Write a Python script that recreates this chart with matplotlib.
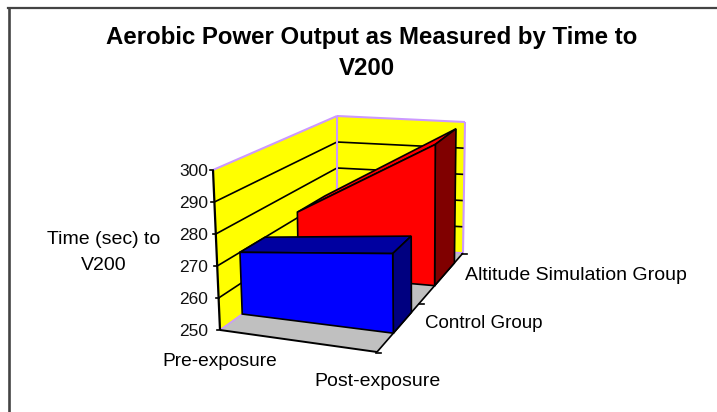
import matplotlib
matplotlib.use("Agg")
import matplotlib.pyplot as plt
from matplotlib.patches import Polygon

plt.rcParams['font.family'] = ['Liberation Sans', 'DejaVu Sans']

# chart data
categories = ['Pre-exposure', 'Post-exposure']
groups = ['Control Group', 'Altitude Simulation Group']
control = [270, 275.5]
altitude = [272, 300]
yticks = [250, 260, 270, 280, 290, 300]
title = 'Aerobic Power Output as Measured by Time to\nV200'
ylabel = 'Time (sec) to\nV200'

# pixel position of the 8 box corners, (x, depth, value)
corners = {
    (0, 0, 0): (220, 330), (0, 0, 1): (213, 170),
    (1, 0, 0): (377, 352), (1, 0, 1): (375, 190),
    (0, 1, 0): (337, 246), (0, 1, 1): (337, 116),
    (1, 1, 0): (463, 253), (1, 1, 1): (465, 122),
}
ymin, ymax = yticks[0], yticks[-1]


def proj(u, d, val):
    v = (val - ymin) / (ymax - ymin)
    px = py = 0
    for (a, b, c), (cx, cy) in corners.items():
        w = (u if a else 1 - u) * (d if b else 1 - d) * (v if c else 1 - v)
        px += w * cx
        py += w * cy
    return px, py


def face(ax, pts, color, z=3, ec='black', lw=1.2):
    ax.add_patch(Polygon([proj(*p) for p in pts], closed=True, fc=color, ec=ec, lw=lw, zorder=z))


def line(ax, a, b, color='black', lw=1.2, z=2):
    pa, pb = proj(*a), proj(*b)
    ax.plot([pa[0], pb[0]], [pa[1], pb[1]], color=color, lw=lw, zorder=z, solid_capstyle='butt')


def area(ax, values, d0, d1, col_front, col_top, col_side, z):
    v0, v1 = values
    # back to front: top, side, front
    face(ax, [(0, d0, v0), (0, d1, v0), (1, d1, v1), (1, d0, v1)], col_top, z)
    face(ax, [(1, d0, ymin), (1, d1, ymin), (1, d1, v1), (1, d0, v1)], col_side, z)
    face(ax, [(0, d0, ymin), (1, d0, ymin), (1, d0, v1), (0, d0, v0)], col_front, z)


fig = plt.figure(figsize=(7.17, 4.12), dpi=100)
ax = fig.add_axes([0, 0, 1, 1])
ax.set_xlim(0, 717)
ax.set_ylim(412, 0)
ax.axis('off')

# outer frame
ax.plot([9, 9], [412, 8], color='#444444', lw=1.9)
ax.plot([8, 717], [8, 8], color='#444444', lw=1.6)

# walls and floor
wall = '#FFFF00'
plum = '#CC99FF'
face(ax, [(0, 0, ymin), (0, 1, ymin), (0, 1, ymax), (0, 0, ymax)], wall, 1, ec='none')
face(ax, [(0, 1, ymin), (1, 1, ymin), (1, 1, ymax), (0, 1, ymax)], wall, 1, ec='none')
face(ax, [(0, 0, ymin), (1, 0, ymin), (1, 1, ymin), (0, 1, ymin)], '#C0C0C0', 1, ec='none')

for t in yticks[1:-1]:
    line(ax, (0, 0, t), (0, 1, t))
    line(ax, (0, 1, t), (1, 1, t))
line(ax, (0, 0, ymax), (0, 1, ymax), plum, 1.5)
line(ax, (0, 1, ymax), (1, 1, ymax), plum, 1.5)
line(ax, (0, 1, ymin), (0, 1, ymax), plum, 1.5)
line(ax, (1, 1, ymin), (1, 1, ymax), plum, 1.5)
line(ax, (0, 0, ymin), (0, 1, ymin), plum, 1.2)
line(ax, (0, 1, ymin), (1, 1, ymin), plum, 1.2)

# floor front and side edges, with their ticks
line(ax, (0, 0, ymin), (1, 0, ymin), lw=1.4, z=6)
line(ax, (1, 0, ymin), (1, 1, ymin), lw=1.2, z=2)
line(ax, (0, 0, ymin), (0, 0, ymax), lw=1.6, z=6)
for d in [0, 0.5, 1]:
    x, y = proj(1, d, ymin)
    ax.plot([x - 1, x + 4], [y + 1, y + 1], color='black', lw=1.2, zorder=2)

# the two area series
area(ax, altitude, 0.67, 0.90, '#FF0000', '#FF0000', '#800000', 3)
area(ax, control, 0.19, 0.40, '#0000FF', '#0000A0', '#000080', 4)

# tick marks and labels
for t in yticks:
    x, y = proj(0, 0, t)
    ax.plot([x - 3, x], [y, y], color='black', lw=1.2, zorder=6)
    ax.text(208, y + 1, str(t), ha='right', va='center', fontsize=12.5, color='#111111')

ax.text(372, 37, title.split('\n')[0], ha='center', va='center', fontsize=17.3, fontweight='bold')
ax.text(367, 68, title.split('\n')[1], ha='center', va='center', fontsize=17.3, fontweight='bold')
ax.text(104, 239, ylabel.split('\n')[0], ha='center', va='center', fontsize=14)
ax.text(104, 265, ylabel.split('\n')[1], ha='center', va='center', fontsize=14)
ax.text(220, 362, categories[0], ha='center', va='center', fontsize=13.8)
ax.text(377, 382, categories[1], ha='center', va='center', fontsize=14)
ax.text(425, 323, groups[0], ha='left', va='center', fontsize=13.5)
ax.text(465, 275, groups[1], ha='left', va='center', fontsize=14)

fig.savefig('out.png', dpi=100)
